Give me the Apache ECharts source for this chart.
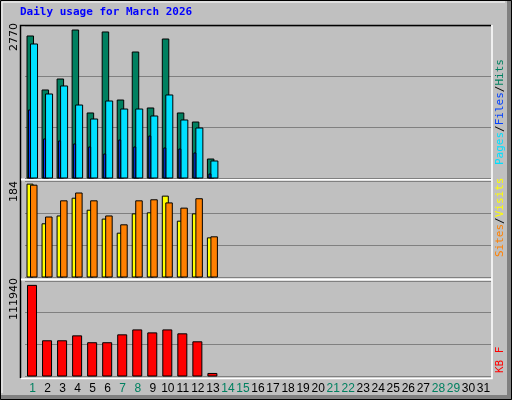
<!DOCTYPE html>
<html>
<head>
<meta charset="utf-8">
<script src="https://cdn.jsdelivr.net/npm/echarts@6/dist/echarts.min.js"></script>
</head>
<body style="margin:0;background:#c0c0c0">
<div id="container" style="width:512px;height:400px"></div>
<script>
var days = [];
for (var d = 1; d <= 31; d++) days.push(String(d));
var weekendDays = ['1','7','8','14','15','21','22','28','29'];

var hits   = [2588,1604,1804,2697,1185,2661,1421,2296,1276,2533,1185,1020,346];
var pages  = [2442,1531,1677,1330,1075,1403,1257,1257,1130,1513,1057,911,310];
var files  = [1239,711,674,620,565,437,692,565,765,547,528,456,73];
var sites  = [178,102,117,151,128,111,84,121,123,155,107,121,75];
var visits = [176,115,146,161,146,117,100,146,148,142,132,150,77];
var kbytes = [106800,41500,41500,47300,39200,39200,48500,54300,50800,54300,49700,40300,3000];

var maxHits = 2770, maxVisits = 184, maxKb = 111940;

function toData(arr) {
    return arr.map(function (v, i) { return [i, v]; });
}

// bar drawn at offset [x0,x1] from the day centre
function barRender(x0, x1, color) {
    return function (params, api) {
        var top = api.coord([api.value(0), api.value(1)]);
        var base = api.coord([api.value(0), 0]);
        return {
            type: 'rect',
            shape: {x: top[0] + x0, y: top[1], width: x1 - x0, height: base[1] - top[1]},
            style: {fill: color, stroke: '#000', lineWidth: 1}
        };
    };
}

function barSeries(arr, idx, x0, x1, color) {
    return {
        type: 'custom', xAxisIndex: idx, yAxisIndex: idx,
        data: toData(arr), renderItem: barRender(x0, x1, color)
    };
}

var grids = [
    {left: 25, right: 21, top: 26, height: 152},
    {left: 25, right: 21, top: 181, height: 96},
    {left: 25, right: 21, top: 281, height: 95}
];

var xAxes = grids.map(function (g, i) {
    return {
        type: 'category', gridIndex: i, data: days, boundaryGap: true,
        axisLine: {show: false}, axisTick: {show: false},
        axisLabel: {
            show: i === 2, interval: 0, margin: 7,
            fontFamily: 'Liberation Sans', fontSize: 12,
            color: function (v) { return weekendDays.indexOf(v) >= 0 ? '#008060' : '#000'; }
        }
    };
});

var yAxes = [maxHits, maxVisits, maxKb].map(function (m, i) {
    return {
        type: 'value', gridIndex: i, min: 0, max: m, interval: m / 3,
        axisLabel: {show: false}, axisLine: {show: false}, axisTick: {show: false},
        splitLine: {lineStyle: {color: '#808080', width: 1}}
    };
});

var mono = 'DejaVu Sans Mono';

var option = {
    backgroundColor: '#c0c0c0',
    animation: false,
    grid: grids,
    xAxis: xAxes,
    yAxis: yAxes,
    series: [
        barSeries(hits, 0, -5.5, 1, '#008060'),
        barSeries(pages, 0, -2, 5, '#00e0ff'),
        barSeries(files, 0, -4, -2, '#0040ff'),
        barSeries(sites, 1, -5.5, 0.5, '#ffff00'),
        barSeries(visits, 1, -2, 4.5, '#ff8000'),
        barSeries(kbytes, 2, -5, 4, '#ff0000')
    ],
    graphic: [
        // outer bevel
        {type: 'rect', shape: {x: 507, y: 0, width: 5, height: 400}, style: {fill: '#808080'}, z: -1},
        {type: 'rect', shape: {x: 0, y: 395, width: 512, height: 5}, style: {fill: '#808080'}, z: -1},
        {type: 'rect', shape: {x: 0.5, y: 0.5, width: 511, height: 399}, style: {fill: null, stroke: '#000'}},
        {type: 'polyline', shape: {points: [[2, 393], [2, 2], [505, 2]]}, style: {stroke: '#fff', lineWidth: 1, fill: null}},
        // plot frame
        {type: 'polyline', shape: {points: [[20.5, 378], [20.5, 25.5], [491, 25.5]]}, style: {stroke: '#000', lineWidth: 1.5, fill: null}},
        {type: 'polyline', shape: {points: [[21, 378.5], [492, 378.5], [492, 25]]}, style: {stroke: '#fff', lineWidth: 1.5, fill: null}},
        {type: 'line', shape: {x1: 21, y1: 179.5, x2: 492, y2: 179.5}, style: {stroke: '#fff', lineWidth: 2}},
        {type: 'line', shape: {x1: 21, y1: 279.5, x2: 492, y2: 279.5}, style: {stroke: '#fff', lineWidth: 2}},
        // title
        {type: 'text', x: 20, y: 7, style: {text: 'Daily usage for March 2026', fill: '#0000ff', font: 'bold 11px "' + mono + '"'}},
        // max labels
        {type: 'text', x: 9, y: 51, rotation: Math.PI / 2, style: {text: '2770', fill: '#000', font: '11px "DejaVu Sans"'}},
        {type: 'text', x: 9, y: 202, rotation: Math.PI / 2, style: {text: '184', fill: '#000', font: '11px "DejaVu Sans"'}},
        {type: 'text', x: 9, y: 320, rotation: Math.PI / 2, style: {text: '111940', fill: '#000', font: '11px "DejaVu Sans"'}},
        // right legends
        {type: 'text', x: 495, y: 165, rotation: Math.PI / 2, style: {
            text: '{p|Pages}{s|/}{f|Files}{s|/}{h|Hits}', font: '11px "' + mono + '"',
            rich: {p: {fill: '#00e0ff'}, f: {fill: '#0040ff'}, h: {fill: '#008060'}, s: {fill: '#000'}}
        }},
        {type: 'text', x: 495, y: 257, rotation: Math.PI / 2, style: {
            text: '{a|Sites}{s|/}{b|Visits}', font: '11px "' + mono + '"',
            rich: {a: {fill: '#ff8000'}, b: {fill: '#ffff00'}, s: {fill: '#000'}}
        }},
        {type: 'text', x: 495, y: 373, rotation: Math.PI / 2, style: {
            text: '{k|KB F}', font: '11px "' + mono + '"', rich: {k: {fill: '#ff0000'}}
        }}
    ]
};

var myChart = echarts.init(document.getElementById('container'));
myChart.setOption(option);
</script>
</body>
</html>
